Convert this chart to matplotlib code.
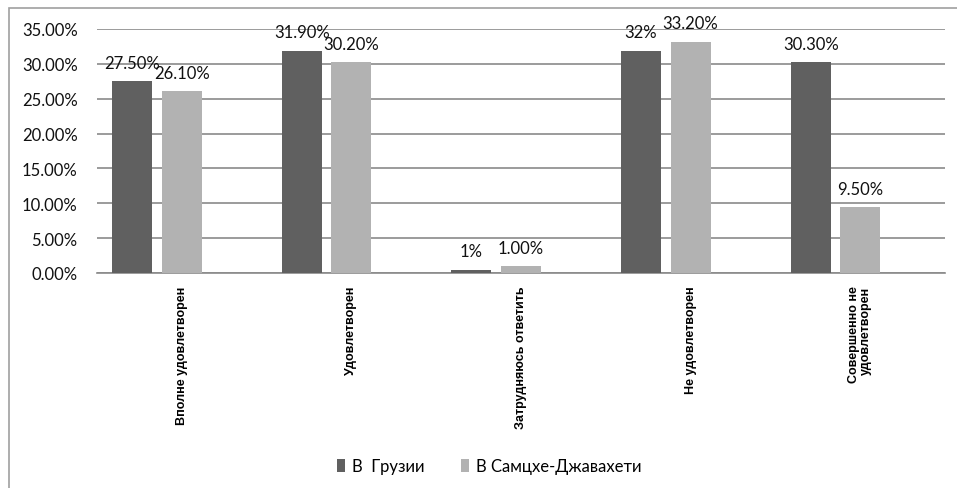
import matplotlib
matplotlib.use("Agg")
import matplotlib.pyplot as plt
from matplotlib.patches import Rectangle, Patch
import numpy as np

# chart data
categories = ["Вполне удовлетворен", "Удовлетворен", "Затрудняюсь ответить",
              "Не удовлетворен", "Совершенно не\nудовлетворен"]
series_names = ["В  Грузии", "В Самцхе-Джавахети"]
georgia = [27.5, 31.9, 0.5, 31.9, 30.3]
samtskhe = [26.1, 30.2, 1.0, 33.2, 9.5]
georgia_labels = ["27.50%", "31.90%", "1%", "32%", "30.30%"]
samtskhe_labels = ["26.10%", "30.20%", "1.00%", "33.20%", "9.50%"]
yticks = [0, 5, 10, 15, 20, 25, 30, 35]

dark = "#606060"
light = "#b2b2b2"
num_font = "Lato"

fig = plt.figure(figsize=(9.57, 4.89), dpi=100)
ax = fig.add_axes([97 / 957, 1 - 274 / 489, 848 / 957, 244 / 489])

x = np.arange(len(categories))
w = 0.236
off = 0.292
b1 = ax.bar(x - off, georgia, w, color=dark, zorder=3)
b2 = ax.bar(x, samtskhe, w, color=light, zorder=3)

# data labels
for bars, labels in [(b1, georgia_labels), (b2, samtskhe_labels)]:
    for bar, lab in zip(bars, labels):
        ax.annotate(lab, (bar.get_x() + bar.get_width() / 2, bar.get_height()),
                    xytext=(0, 9.5), textcoords="offset points",
                    ha="center", va="baseline", fontsize=12, family=num_font,
                    color="#111111", zorder=4)

ax.set_xlim(-0.5, len(categories) - 0.5)
ax.set_ylim(0, 35)
ax.set_yticks(yticks)
ax.set_yticklabels(["%.2f%%" % v for v in yticks], fontsize=12, family=num_font,
                   color="#111111")
ax.tick_params(axis="y", length=0, pad=14)
ax.yaxis.grid(True, color="#8a8a8a", lw=1.2, zorder=0)
ax.set_axisbelow(True)

ax.set_xticks(x)
ax.set_xticklabels([])
ax.tick_params(axis="x", length=0)
for xi, cat in zip(x, categories):
    ax.annotate(cat, (xi, 0), xytext=(0, -9), textcoords="offset points",
                rotation=90, ha="center", va="top", multialignment="right",
                fontsize=9, fontweight="bold", family="Liberation Sans",
                color="black", linespacing=1.0)

for s in ["top", "right", "left"]:
    ax.spines[s].set_visible(False)
ax.spines["bottom"].set_color("#8a8a8a")
ax.spines["bottom"].set_linewidth(1.2)

# legend
handles = [Patch(facecolor=dark), Patch(facecolor=light)]
fig.legend(handles, series_names, loc="center", bbox_to_anchor=(489 / 957, 1 - 467 / 489),
           ncol=2, frameon=False, prop={"family": num_font, "size": 12},
           handlelength=0.5, handleheight=0.8, handletextpad=0.4, columnspacing=2.2)

# outer chart frame (cut off on right and bottom)
fig.patches.append(Rectangle((9 / 957, -0.1), 1.2, 1 - 9 / 489 + 0.1,
                             transform=fig.transFigure, fill=False,
                             edgecolor="#a0a0a0", lw=1.2))

fig.savefig("out.png", dpi=100)
